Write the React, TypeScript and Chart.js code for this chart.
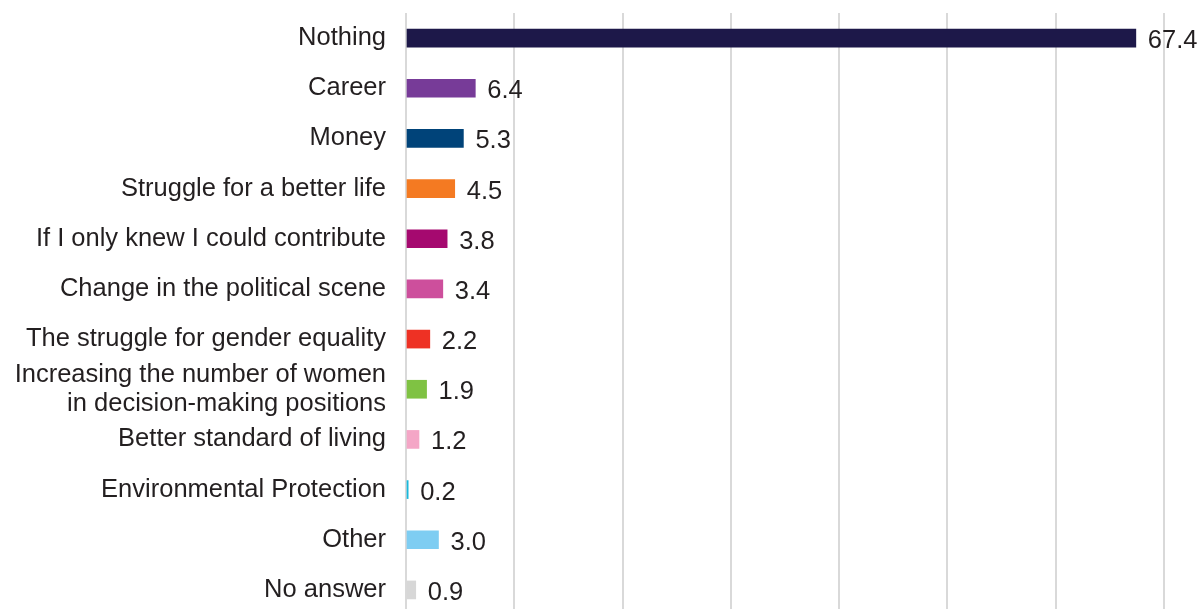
import React, { useEffect, useRef } from "react";
import { Chart, registerables } from "chart.js";

Chart.register(...registerables);

const categories: (string | string[])[] = [
  "Nothing",
  "Career",
  "Money",
  "Struggle for a better life",
  "If I only knew I could contribute",
  "Change in the political scene",
  "The struggle for gender equality",
  ["Increasing the number of women", "in decision-making positions"],
  "Better standard of living",
  "Environmental Protection",
  "Other",
  "No answer",
];

const values = [67.4, 6.4, 5.3, 4.5, 3.8, 3.4, 2.2, 1.9, 1.2, 0.2, 3.0, 0.9];

const barColors = [
  "#1d1849",
  "#773b98",
  "#004379",
  "#f47a22",
  "#a5096f",
  "#cd4f9c",
  "#ee3124",
  "#7fc243",
  "#f4a6c6",
  "#18b9dc",
  "#7ecdf2",
  "#d7d7d7",
];

const axisMax = 70;
const axisStep = 10;

const FONT_FAMILY = "'Liberation Sans', Arial, Helvetica, sans-serif";
const TEXT_COLOR = "#231f20";
const FONT_SIZE = 25.5;

const valueLabelPlugin = {
  id: "valueLabels",
  afterDatasetsDraw(chart: any) {
    const ctx = chart.ctx;
    const meta = chart.getDatasetMeta(0);
    ctx.save();
    ctx.font = `${FONT_SIZE}px ${FONT_FAMILY}`;
    ctx.fillStyle = TEXT_COLOR;
    ctx.textAlign = "left";
    ctx.textBaseline = "middle";
    meta.data.forEach((bar: any, i: number) => {
      const v = chart.data.datasets[0].data[i] as number;
      ctx.fillText(v.toFixed(1), bar.x + 12, bar.y + 3);
    });
    ctx.restore();
  },
};

export default function App() {
  const canvasRef = useRef<HTMLCanvasElement | null>(null);

  useEffect(() => {
    if (!canvasRef.current) return;
    const chart = new Chart(canvasRef.current, {
      type: "bar",
      data: {
        labels: categories,
        datasets: [
          {
            data: values,
            backgroundColor: barColors,
            borderWidth: 0,
            barThickness: 18,
          },
        ],
      },
      options: {
        indexAxis: "y",
        animation: false,
        responsive: true,
        maintainAspectRatio: false,
        layout: { padding: { top: 13, right: 34, bottom: 0, left: 0 } },
        plugins: {
          legend: { display: false },
          tooltip: { enabled: false },
        },
        scales: {
          x: {
            min: 0,
            max: axisMax,
            ticks: { display: false, stepSize: axisStep },
            grid: {
              color: "#d9d9d9",
              lineWidth: 2,
              drawTicks: false,
            },
            border: { display: false },
            afterFit: (scale: any) => {
              scale.height = 0;
              scale.paddingLeft = 0;
              scale.paddingRight = 0;
            },
          },
          y: {
            grid: { display: false, drawTicks: false },
            border: { display: false },
            ticks: {
              autoSkip: false,
              color: TEXT_COLOR,
              padding: 20,
              font: { family: FONT_FAMILY, size: FONT_SIZE, lineHeight: 1.12 },
            },
            afterFit: (scale: any) => {
              scale.width = 406;
              scale.paddingTop = 0;
              scale.paddingBottom = 0;
            },
          },
        },
      },
      plugins: [valueLabelPlugin],
    });
    return () => chart.destroy();
  }, []);

  return (
    <div
      style={{
        position: "fixed",
        left: 0,
        top: 0,
        width: 1198,
        height: 609,
        overflow: "hidden",
        background: "#ffffff",
      }}
    >
      <div style={{ position: "relative", width: 1198, height: 615 }}>
        <canvas ref={canvasRef} />
      </div>
    </div>
  );
}
